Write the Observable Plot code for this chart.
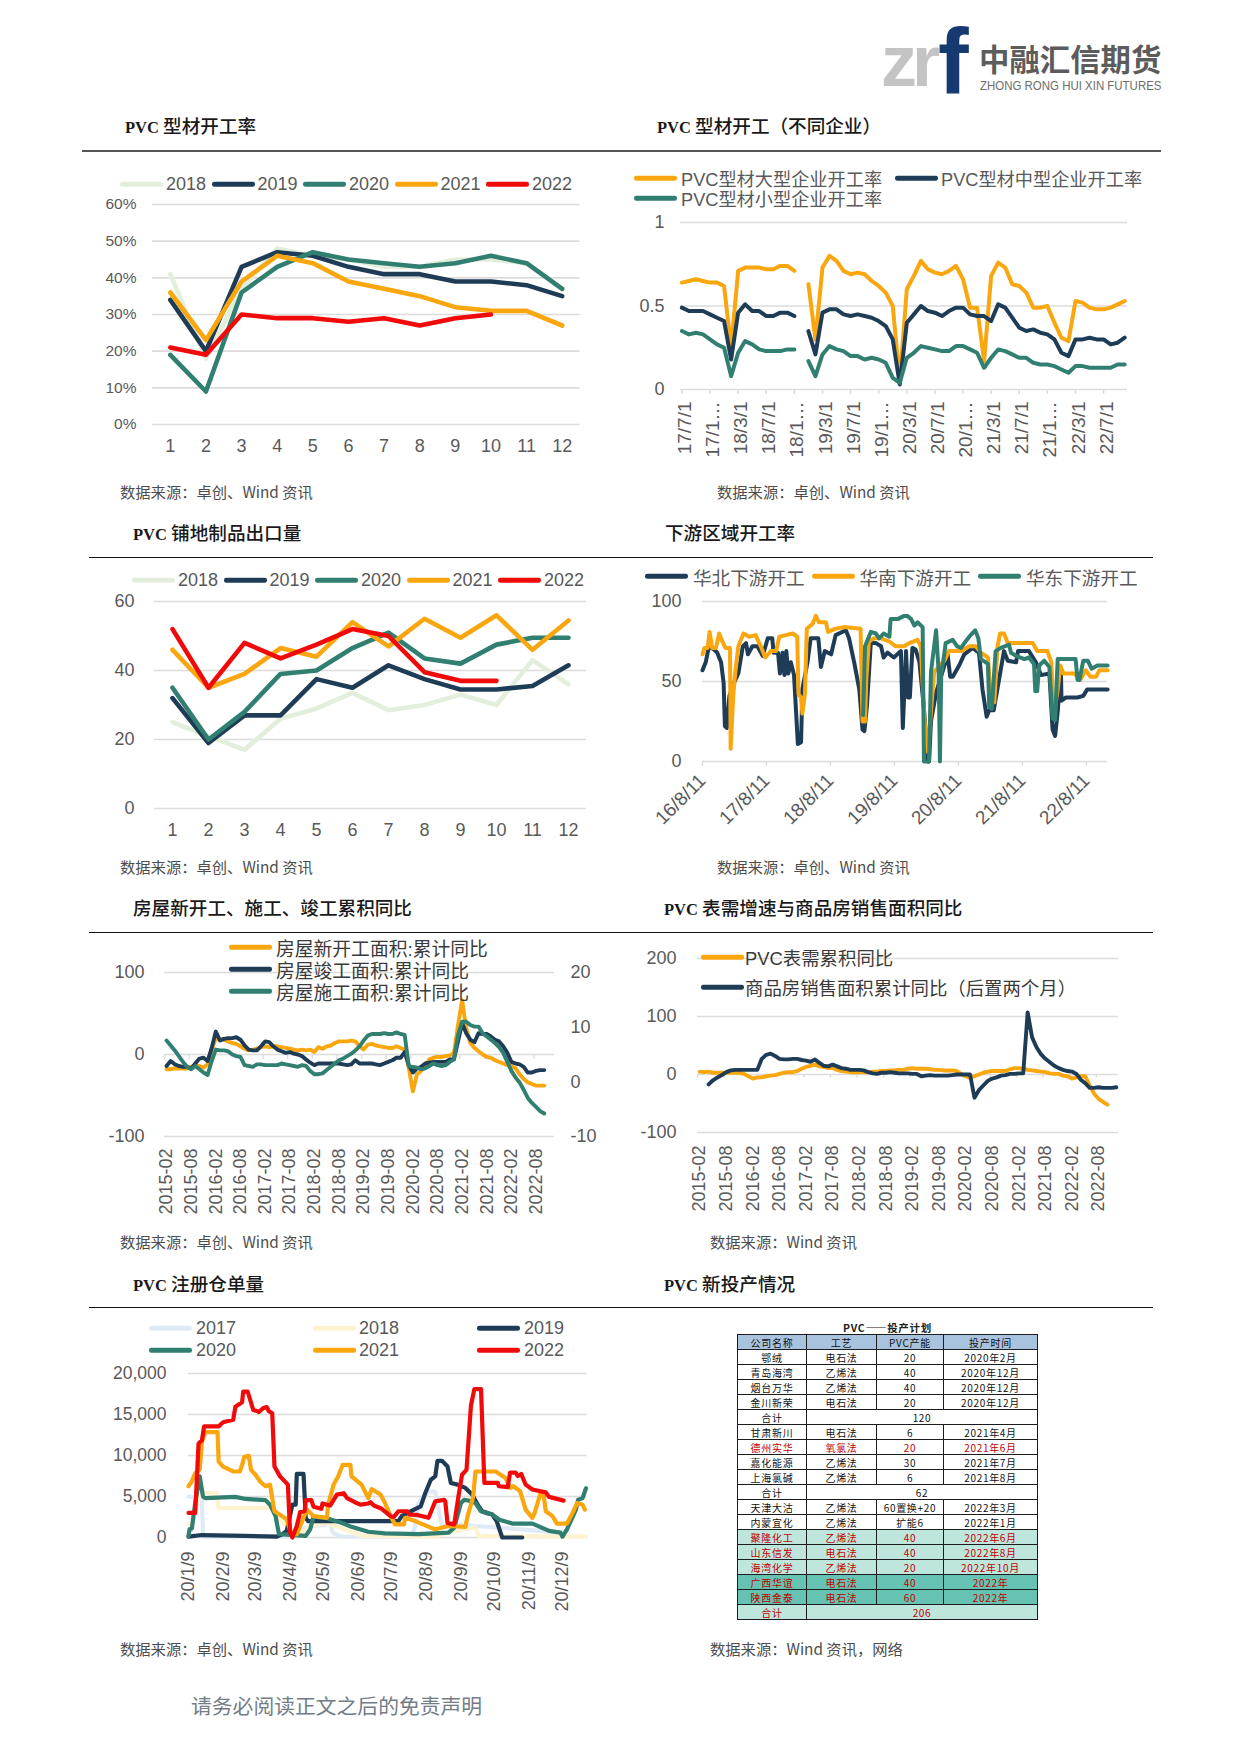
<!DOCTYPE html>
<html lang="zh">
<head>
<meta charset="utf-8">
<script src="https://cdn.jsdelivr.net/npm/d3@7"></script>
<script src="https://cdn.jsdelivr.net/npm/@observablehq/plot@0.6"></script>
<style>
html,body{margin:0;padding:0;background:#fff;}
#page{position:relative;width:1241px;height:1755px;overflow:hidden;font-family:"Liberation Sans","Noto Sans CJK SC",sans-serif;}
.abs{position:absolute;white-space:nowrap;}
.title{font-family:"Noto Sans CJK SC",sans-serif;font-weight:500;font-size:18.6px;color:#1a1a1a;transform:translateY(-50%);}
.title span{font-family:"Liberation Serif",serif;font-weight:700;font-size:16.5px;}
.source{font-family:"Noto Sans CJK SC",sans-serif;font-size:15.3px;color:#4d4d4d;transform:translateY(-50%);}
.leg{color:#595959;font-size:18px;transform:translateY(-50%);}
.swatch{height:4.6px;border-radius:2.3px;transform:translateY(-50%);}
table{position:absolute;left:737px;top:1320px;width:300px;border-collapse:collapse;table-layout:fixed;font-family:"Noto Sans CJK SC",sans-serif;font-size:10px;letter-spacing:.7px;}
td{height:14px;padding:0;line-height:13px;text-align:center;border:1px solid #1c1c1c;overflow:hidden;white-space:nowrap;}
</style>
</head>
<body>
<div id="page"></div>
<script>
// ---------- palette ----------
const NAVY="#1f3c57", TEAL="#317f70", ORANGE="#f9a60f", RED="#f00a0a", LGREEN="#e3efdc", LBLUE="#dfeaf6", CREAM="#fff2cf";
const GRID="#dcdcdc", TEXT="#595959";

// ---------- chart 1: PVC profile operating rate ----------
const months=[1,2,3,4,5,6,7,8,9,10,11,12];
const pctTicks=[0,10,20,30,40,50,60];
const rate2018=[41,18,37,48,46,45,43,43,45,45,44,37];
const rate2019=[34,20,43,47,46,43,41,41,39,39,38,35];
const rate2020=[19,9,36,43,47,45,44,43,44,46,44,37];
const rate2021=[36,23,39,46,44,39,37,35,32,31,31,27];
const rate2022=[21,19,30,29,29,28,29,27,29,30];

// ---------- chart 2: by enterprise size (monthly, from 2017/7) ----------
const sizeTickIndex=[0,4,8,12,16,20,24,28,32,36,40,44,48,52,56,60];
const sizeTickLabels=["17/7/1","17/1…","18/3/1","18/7/1","18/1…","19/3/1","19/7/1","19/1…","20/3/1","20/7/1","20/1…","21/3/1","21/7/1","21/1…","22/3/1","22/7/1"];
const sizeLarge=[.64,.65,.66,.65,.64,.64,.62,.25,.71,.73,.73,.73,.72,.72,.74,.74,.71,null,
 .63,.30,.73,.80,.77,.71,.69,.70,.69,.65,.62,.58,.50,.05,.60,.68,.77,.72,.70,.69,.71,.74,.66,.49,.49,.17,.68,.76,.73,.63,.62,.58,.49,.49,.50,.40,.31,.29,.53,.52,.49,.48,.48,.49,.51,.53];
const sizeMedium=[.49,.47,.47,.47,.45,.43,.41,.18,.46,.51,.47,.47,.44,.44,.46,.46,.44,null,
 .35,.21,.46,.48,.48,.45,.44,.45,.44,.43,.41,.38,.30,.03,.40,.45,.50,.47,.46,.44,.47,.49,.49,.45,.44,.44,.41,.51,.49,.43,.37,.35,.36,.34,.33,.30,.22,.20,.30,.30,.31,.30,.30,.27,.28,.31];
const sizeSmall=[.35,.33,.34,.33,.30,.27,.25,.08,.22,.29,.27,.24,.23,.23,.23,.24,.24,null,
 .17,.08,.21,.26,.24,.23,.20,.20,.18,.19,.18,.16,.07,.04,.19,.22,.26,.25,.24,.23,.23,.26,.26,.24,.22,.13,.19,.24,.23,.21,.19,.19,.16,.15,.15,.14,.12,.10,.14,.14,.13,.13,.13,.13,.15,.15];

// ---------- chart 3: PVC flooring exports ----------
const export2018=[25,21,17,26,29,33.5,28.5,30,33,30,43,36];
const export2019=[32,19,27,27,37.5,35,41.5,37.5,34.5,34.5,35.5,41.5];
const export2020=[35,20,28,39,40,46.5,51,43.5,42,47.5,49.5,49.5];
const export2021=[46,35,39,46.5,44,54,47,55,49.5,56,46,54.5];
const export2022=[52,35,48,43.5,47.5,52,50,39.5,37,37];

// ---------- chart 4: downstream regional rate (x = years since 16/8/11) ----------
const regionYearLabels=["16/8/11","17/8/11","18/8/11","19/8/11","20/8/11","21/8/11","22/8/11"];
const northYears=[0,.05,.10,.18,.23,.29,.33,.35,.38,.42,.49,.56,.63,.68,.71,.78,.86,.94,1.02,1.09,1.11,1.18,1.21,1.25,1.28,1.31,1.34,1.38,1.43,1.49,1.54,1.56,1.64,1.69,1.81,1.85,1.91,2.01,2.08,2.24,2.29,2.37,2.45,2.50,2.53,2.57,2.63,2.71,2.79,2.83,2.89,2.99,3.10,3.13,3.18,3.21,3.24,3.28,3.33,3.39,3.46,3.52,3.54,3.57,3.65,3.78,3.83,3.87,3.91,4.01,4.09,4.22,4.32,4.375,4.44,4.48,4.55,4.62,4.71,4.77,4.90,4.93,5.10,5.21,5.29,5.42,5.47,5.51,5.55,5.60,5.61,5.68,5.86,5.95,6.01,6.33];
const northRate=[57,62,72,70,68,62,49,22,21,41,49,55,72,74,67,72,72,66,77,77,68,68,55,68,54,69,55,62,54,11,12,45,62,77,77,59,69,67,79,82,77,62,45,20,19,35,74,74,72,65,68,65,69,21,69,40,40,71,70,62,33,0,0,25,43,60,67,53,53,60,67,71,68,45,28,32,32,48,69,63,62,69,69,62,54,55,20,16,31,57,38,40,40,41,45,45];
const southYears=[0,.03,.08,.11,.15,.21,.26,.31,.36,.43,.44,.48,.51,.56,.64,.73,.83,.91,.98,1.07,1.15,1.20,1.30,1.41,1.48,1.50,1.54,1.56,1.60,1.63,1.72,1.77,1.82,1.93,1.96,2.08,2.21,2.47,2.50,2.54,2.56,2.60,2.68,2.79,2.92,3.02,3.15,3.23,3.36,3.41,3.47,3.52,3.62,3.78,3.85,4.04,4.17,4.27,4.35,4.46,4.51,4.56,4.61,4.65,4.71,4.77,5.16,5.23,5.39,5.45,5.49,5.55,5.59,5.64,5.81,5.90,5.99,6.06,6.15,6.20,6.33];
const southRate=[67,71,71,81,71,71,80,75,71,71,8,41,55,72,80,78,79,72,65,69,69,78,79,80,78,42,40,30,42,83,86,91,87,87,81,83,84,83,25,25,52,75,77,77,75,72,72,74,76,72,25,6,56,63,69,69,72,72,68,65,37,37,72,80,80,74,74,69,69,62,29,45,60,55,55,51,57,53,53,57,57];
const eastYears=[2.51,2.54,2.63,2.71,2.76,2.83,2.92,2.94,3.05,3.15,3.20,3.26,3.31,3.36,3.44,3.45,3.46,3.54,3.57,3.65,3.69,3.71,3.73,3.78,3.80,3.91,3.98,4.04,4.11,4.19,4.26,4.31,4.35,4.46,4.48,4.52,4.58,4.66,4.79,4.82,4.90,5.03,5.10,5.18,5.20,5.23,5.26,5.34,5.42,5.47,5.51,5.55,5.60,5.83,5.86,5.89,5.95,6.02,6.08,6.17,6.33];
const eastRate=[29,72,81,80,77,80,78,89,89,91,91,89,85,87,84,41,0,0,56,82,56,0,54,68,74,76,72,71,75,79,82,77,64,61,34,33,69,71,73,68,66,64,65,61,44,44,60,63,59,27,26,64,64,64,51,51,63,63,58,60,60];

// ---------- charts 5 & 6: half-yearly labelled monthly axis, from 2015-02 ----------
const halfYearIndex=[0,6,12,18,24,30,36,42,48,54,60,66,72,78,84,90];
const halfYearLabels=["2015-02","2015-08","2016-02","2016-08","2017-02","2017-08","2018-02","2018-08","2019-02","2019-08","2020-02","2020-08","2021-02","2021-08","2022-02","2022-08"];
const leftTicks=[-100,0,100];
const rightAxisLabels=[-10,0,10,20];
const newStarts=[-18,-18,-17,-17,-17,-17,-15,-14,-14,-16,-12,6,20,19,18,16,14,13,10,7,5,6,7,9,10,9,10,10,9,8,7,6,5,6,5,6,3,9,7,10,11,14,16,16,16,17,16,10,6,12,13,11,10,9,8,8,10,8,6,-16,-45,-24,-20,-14,-6,-4,-3,-3,-2,-1,2,36,66,32,14,8,4,0,-3,-4,-7,-9,-11,-13,-14,-17,-24,-30,-34,-36,-38,-38,-38];
const completions=[-14,-8,-12,-14,-15,-15,-17,-11,-5,-4,-8,8,28,17,19,20,20,21,18,11,6,5,5,10,16,15,10,6,4,2,3,1,0,-2,-6,-10,-13,-11,-11,-11,-11,-11,-11,-12,-13,-12,-7,-11,-11,-11,-11,-12,-13,-11,-9,-7,-4,-4,3,-13,-22,-17,-15,-11,-10,-9,-9,-9,-9,-6,-6,16,38,26,18,15,26,25,25,22,18,16,10,2,-9,-11,-12,-15,-22,-22,-20,-19,-19];
const underConstruction=[17,11,5,-2,-9,-15,-18,-14,-18,-22,-25,-8,6,5,5,4,0,-2,-3,-13,-14,-15,-12,-12,-13,-13,-13,-13,-11,-12,-13,-14,-15,-13,-14,-20,-24,-24,-23,-19,-15,-11,-7,-5,-2,1,5,10,17,23,25,25,25,26,25,25,27,25,24,-14,-15,-16,-18,-17,-14,-11,-13,-14,-13,-9,-6,24,40,40,36,34,34,26,22,18,14,9,2,-9,-20,-28,-34,-43,-53,-59,-64,-69,-72];
const apparentDemand=[5,4,5,3,3,3,3,3,3,3,1,-3,-7,-5,-5,-3,-2,-1,1,3,4,4,6,10,13,15,17,14,13,11,11,8,6,5,4,4,4,4,4,5,5,6,6,7,7,8,8,10,11,10,10,10,9,8,8,7,7,7,6,1,-3,-6,-3,0,3,5,6,6,6,6,9,11,11,10,8,7,6,5,4,2,1,1,-2,-3,-7,-5,-3,-3,-19,-33,-42,-47,-52];
const housingSales=[null,null,-17,-10,-5,-1,4,7,8,8,8,8,8,8,27,34,36,32,27,26,26,27,27,25,24,22,26,20,15,14,17,14,11,10,8,8,8,7,4,2,1,3,3,4,3,2,2,2,1,1,-3,-2,-1,-2,-2,-2,-2,-1,0,0,0,0,-40,-27,-19,-11,-7,-5,-2,-1,1,1,2,2,107,64,47,35,27,21,15,11,8,6,5,1,-9,-15,-23,-23,-22,-23,-23,-23,-22];

// ---------- chart 7: registered warehouse receipts (x = days after Jan 9) ----------
const receiptTickDates=["2020-01-09","2020-02-09","2020-03-09","2020-04-09","2020-05-09","2020-06-09","2020-07-09","2020-08-09","2020-09-09","2020-10-09","2020-11-09","2020-12-09"];
const receiptTicks=[0,5000,10000,15000,20000];
const days2017=[0,12,13,98,101,110,122,126,129,137,200,203,206,215,221,227,241,257,279,335];
const lots2017=[5000,4800,100,100,1000,1400,1500,2200,600,100,100,1400,4200,5600,5600,1400,1600,1400,1200,600];
const days2018=[0,3,10,25,27,76,79,93,98,110,122,140,155,221,233,251,257,260,356];
const lots2018=[1600,1600,5400,5400,3600,3600,2600,600,400,1400,1800,1000,200,100,600,1100,1200,200,100];
const days2019=[0,12,51,79,84,88,93,96,97,103,105,107,188,191,202,208,212,217,221,223,227,232,235,241,248,254,259,263,272,276,281,299];
const lots2019=[100,300,200,100,400,800,4000,4000,7750,7750,2400,2000,2000,2600,3400,3800,5400,7050,7450,9350,9350,8650,6650,6450,6050,5250,4000,3200,2800,2000,0,0];
const days2020=[0,1,3,6,10,13,15,42,51,69,73,78,81,105,109,112,122,137,146,161,176,206,233,238,244,247,254,257,262,266,272,278,290,308,323,333,335,339,347,349,353,356];
const lots2020=[200,1000,1100,4200,7450,5000,4800,4950,4700,4550,4000,2600,400,200,1000,2550,2400,1800,1300,700,500,400,600,1200,4200,4600,4400,4200,3200,3000,2800,2200,1700,1700,800,600,100,1000,3400,4600,4800,6000];
const days2021=[0,3,6,10,12,15,26,27,31,40,46,48,50,54,56,60,64,69,73,77,84,88,92,97,100,106,112,124,125,130,134,138,145,146,155,161,164,172,176,181,185,193,194,203,217,221,233,248,250,255,257,275,284,288,291,297,302,308,310,315,318,320,326,330,339,344,348,353,355];
const lots2021=[6250,6850,7850,8250,11650,12850,12850,9250,8650,8050,8050,8850,9850,9950,8250,7650,6850,6250,6450,3200,2600,2200,400,400,1400,3400,2600,2400,4000,6450,7450,8850,8850,7450,6450,4800,5900,5250,4200,2600,1600,1600,2400,2000,1200,1000,1400,1300,2600,5000,8050,8050,7250,6050,6250,5650,3400,2400,3000,5250,5250,3200,2600,1700,1700,3000,4200,4000,3400];
const days2022=[0,6,9,12,14,27,31,40,42,48,49,53,58,62,63,67,70,72,75,77,82,89,91,93,97,100,104,105,110,112,119,120,127,133,139,142,149,154,161,163,166,173,181,184,188,196,198,205,215,221,229,230,232,238,242,245,249,253,256,262,265,277,278,286,288,293,295,298,302,308,320,323,336];
const lots2022=[3000,3000,11450,11850,13550,13550,14050,14350,15950,16500,17800,17800,15550,15400,15300,15800,15900,15400,15150,8650,7450,6450,600,0,1400,3100,3200,4550,4550,3750,3500,4150,3900,5250,5400,4800,4300,4000,4150,4300,3900,3500,2600,2500,3200,3200,2800,2750,2400,4400,4600,4400,1750,1600,5200,7650,8250,16100,18100,18100,6650,6650,6250,6150,7900,7900,7500,7750,6450,5850,5500,4950,4500];

// ---------- table ----------
const tableHeader=["公司名称","工艺","PVC产能","投产时间"];
const tableCompany=["鄂绒","青岛海湾","烟台万华","金川新荣","合计","甘肃新川","德州实华","嘉化能源","上海氯碱","合计","天津大沽","内蒙宜化","聚隆化工","山东信发","海湾化学","广西华谊","陕西金泰","合计"];
const tableProcess=["电石法","乙烯法","乙烯法","电石法",null,"电石法","氧氯法","乙烯法","乙烯法",null,"乙烯法","乙烯法","乙烯法","电石法","乙烯法","电石法","电石法",null];
const tableCapacity=["20","40","40","20","120","6","20","30","6","62","60置换+20","扩能6","40","40","20","40","60","206"];
const tableDate=["2020年2月","2020年12月","2020年12月","2020年12月",null,"2021年4月","2021年6月","2021年7月","2021年8月",null,"2022年3月","2022年1月","2022年6月","2022年8月","2022年10月","2022年","2022年",null];

// ---------- helpers ----------
const page=document.getElementById("page");
function add(cls,x,y,text,style={}){
  const d=document.createElement("div");
  d.className="abs "+cls;d.style.left=x+"px";d.style.top=y+"px";d.textContent=text;
  Object.assign(d.style,style);page.appendChild(d);return d;
}
function legendItem(x,y,textX,label,color,opt={}){
  add("swatch",x,y,"",{width:(opt.w||43)+"px",background:color});
  add("leg",textX,y,label,{fontSize:(opt.size||18)+"px",color:opt.color||TEXT,fontFamily:'"Liberation Sans","Noto Sans CJK SC",sans-serif'});
}
const M={l:80,r:50,t:10,b:110};
function panel(f,marks,scales){
  const width=f.x1-f.x0+M.l+M.r, height=f.y1-f.y0+M.t+M.b;
  const svg=Plot.plot({width,height,marginLeft:M.l,marginRight:M.r,marginTop:M.t,marginBottom:M.b,
    style:{background:"transparent",fontFamily:'"Liberation Sans","Noto Sans CJK SC",sans-serif',fontSize:(f.font||18)+"px",color:TEXT,overflow:"visible"},
    ...scales,marks});
  svg.style.position="absolute";svg.style.left=(f.x0-M.l)+"px";svg.style.top=(f.y0-M.t)+"px";
  page.appendChild(svg);
}
const grid=(t)=>Plot.ruleY(t,{stroke:GRID,strokeWidth:1.7});
const lineOf=(xs,ys,color,w)=>Plot.line(ys.map((v,i)=>[xs[i],v]),{x:d=>d[0],y:d=>d[1],stroke:color,strokeWidth:w,strokeLinejoin:"round",strokeLinecap:"round"});
const byIndex=(ys)=>ys.map((_,i)=>i);
const monthAxisMarks=(ticksY,pad,fmt,fs)=>[
  Plot.axisY({ticks:ticksY,tickSize:0,tickPadding:pad,label:null,tickFormat:fmt||(d=>d),fontSize:fs||18}),
  Plot.axisX({ticks:months,tickSize:0,tickPadding:15,label:null,tickFormat:d=>d})
];

// ---------- static page furniture ----------
add("",881,21,"zr",{fontFamily:'"Liberation Sans"',fontWeight:700,fontSize:"72px",color:"#c4c4c4",letterSpacing:"-5px",lineHeight:"80px"});
add("",938,15,"f",{fontFamily:'"Liberation Sans"',fontWeight:700,fontSize:"92px",color:"#16396f",lineHeight:"92px"});
add("",979,58,"中融汇信期货",{fontFamily:'"Noto Sans CJK SC"',fontWeight:700,fontSize:"30.4px",color:"#5c5c5c",transform:"translateY(-50%)"});
add("",980,86,"ZHONG RONG HUI XIN FUTURES",{fontFamily:'"Liberation Sans"',fontSize:"12px",color:"#6d6d6d",transform:"translateY(-50%) scaleX(.955)",transformOrigin:"left"});

[["PVC 型材开工率",125,124],["PVC 型材开工（不同企业）",657,124],["PVC 铺地制品出口量",133,531],["下游区域开工率",665,531],["房屋新开工、施工、竣工累积同比",133,906],["PVC 表需增速与商品房销售面积同比",664,906],["PVC 注册仓单量",133,1282],["PVC 新投产情况",664,1282]]
 .forEach(([t,x,y])=>{const d=add("title",x,y,"");d.innerHTML=t.replace("PVC","<span>PVC</span>");});
[[82,150,1079,"#555",2],[89,557,1064,"#111",1.4],[89,932,1064,"#111",1.4],[89,1307,1064,"#111",1.4]]
 .forEach(([x,y,w,c,h])=>add("",x,y,"",{width:w+"px",height:h+"px",background:c}));
[["数据来源：卓创、Wind 资讯",120,491],["数据来源：卓创、Wind 资讯",717,491],["数据来源：卓创、Wind 资讯",120,866],["数据来源：卓创、Wind 资讯",717,866],["数据来源：卓创、Wind 资讯",120,1241],["数据来源：Wind 资讯",710,1241],["数据来源：卓创、Wind 资讯",120,1648],["数据来源：Wind 资讯，网络",710,1648]]
 .forEach(([t,x,y])=>add("source",x,y,t));
add("",191,1705,"请务必阅读正文之后的免责声明",{fontFamily:'"Noto Sans CJK SC"',fontSize:"20.8px",color:"#737d87",transform:"translateY(-50%)"});

// ---------- chart 1 ----------
panel({x0:151.5,x1:579,y0:204,y1:424},[
  grid(pctTicks),
  lineOf(months,rate2018,LGREEN,4.6),lineOf(months,rate2019,NAVY,4.6),lineOf(months,rate2020,TEAL,4.6),lineOf(months,rate2021,ORANGE,4.6),lineOf(months,rate2022,RED,4.6),
  ...monthAxisMarks(pctTicks,16,d=>d+"%",15.5)
],{x:{type:"linear",domain:[.5,12.5]},y:{domain:[0,60]}});
[["2018",LGREEN],["2019",NAVY],["2020",TEAL],["2021",ORANGE],["2022",RED]].forEach(([t,c],k)=>legendItem(120+91.5*k,184,166+91.5*k,t,c));

// ---------- chart 2 ----------
panel({x0:680,x1:1127,y0:222,y1:389},[
  grid([0,.5,1]),
  Plot.ruleX(sizeTickIndex,{x:d=>d,y1:0,y2:-.03,stroke:GRID,strokeWidth:1.5}),
  lineOf(byIndex(sizeLarge),sizeLarge,ORANGE,4),lineOf(byIndex(sizeMedium),sizeMedium,NAVY,4),lineOf(byIndex(sizeSmall),sizeSmall,TEAL,4),
  Plot.axisY({ticks:[0,.5,1],tickSize:0,tickPadding:16,label:null,tickFormat:d=>d}),
  Plot.axisX({ticks:sizeTickIndex,tickSize:0,tickPadding:12,tickRotate:-90,label:null,fontSize:19,dx:3,tickFormat:(d)=>sizeTickLabels[sizeTickIndex.indexOf(d)]})
],{x:{type:"linear",domain:[-.2,63.4]},y:{domain:[0,1]}});
legendItem(634,178,681,"PVC型材大型企业开工率",ORANGE,{size:18.2});
legendItem(894.5,178,941,"PVC型材中型企业开工率",NAVY,{size:18.2});
legendItem(634,198,681,"PVC型材小型企业开工率",TEAL,{size:18.2});

// ---------- chart 3 ----------
panel({x0:154,x1:586,y0:601,y1:808},[
  grid([0,20,40,60]),
  lineOf(months,export2018,LGREEN,4.6),lineOf(months,export2019,NAVY,4.6),lineOf(months,export2020,TEAL,4.6),lineOf(months,export2021,ORANGE,4.6),lineOf(months,export2022,RED,4.6),
  ...monthAxisMarks([0,20,40,60],20)
],{x:{type:"linear",domain:[.5,12.5]},y:{domain:[0,60]}});
[["2018",LGREEN],["2019",NAVY],["2020",TEAL],["2021",ORANGE],["2022",RED]].forEach(([t,c],k)=>legendItem(132+91.5*k,580,178+91.5*k,t,c));

// ---------- chart 4 ----------
const yearTicks=regionYearLabels.map((_,i)=>i);
panel({x0:701.7,x1:1106.5,y0:601,y1:761},[
  grid([0,50,100]),
  Plot.ruleX(yearTicks,{x:d=>d,y1:0,y2:-3,stroke:GRID,strokeWidth:1.5}),
  lineOf(northYears,northRate,NAVY,4),lineOf(southYears,southRate,ORANGE,4),lineOf(eastYears,eastRate,TEAL,4),
  Plot.axisY({ticks:[0,50,100],tickSize:0,tickPadding:21,label:null,tickFormat:d=>d}),
  Plot.axisX({ticks:yearTicks,tickSize:0,tickPadding:16,tickRotate:-45,label:null,fontSize:19,tickFormat:d=>regionYearLabels[d]})
],{x:{type:"linear",domain:[0,6.325]},y:{domain:[0,100]}});
[["华北下游开工",NAVY],["华南下游开工",ORANGE],["华东下游开工",TEAL]].forEach(([t,c],k)=>legendItem(645+166.5*k,576,693+166.5*k,t,c,{size:18.6}));

// ---------- chart 5 ----------
const halfYearEdges=halfYearIndex.map(d=>d-.5);
const rightToLeft=r=>(r+10)/30*200-100;
panel({x0:164,x1:554,y0:972,y1:1136},[
  grid(leftTicks),
  Plot.ruleX(halfYearEdges,{x:d=>d,y1:0,y2:-6,stroke:GRID,strokeWidth:1.4}),
  lineOf(byIndex(newStarts),newStarts,ORANGE,3.9),lineOf(byIndex(completions),completions,NAVY,3.9),lineOf(byIndex(underConstruction),underConstruction,TEAL,3.9),
  Plot.axisY({ticks:leftTicks,tickSize:0,tickPadding:20,label:null,tickFormat:d=>d}),
  Plot.axisY({anchor:"right",ticks:rightAxisLabels.map(rightToLeft),tickSize:0,tickPadding:16,label:null,tickFormat:(d)=>rightAxisLabels[rightAxisLabels.map(rightToLeft).indexOf(d)]}),
  Plot.axisX({ticks:halfYearIndex,tickSize:0,tickPadding:12,tickRotate:-90,label:null,tickFormat:d=>halfYearLabels[halfYearIndex.indexOf(d)]})
],{x:{type:"linear",domain:[-.5,94.5]},y:{domain:[-100,100]}});
[["房屋新开工面积:累计同比",ORANGE,947],["房屋竣工面积:累计同比",NAVY,969],["房屋施工面积:累计同比",TEAL,991]].forEach(([t,c,y])=>legendItem(229,y,276,t,c,{size:18.8,color:"#3a3a3a"}));

// ---------- chart 6 ----------
panel({x0:697,x1:1118,y0:958,y1:1132},[
  grid([-100,0,100,200]),
  Plot.ruleX(halfYearEdges,{x:d=>d,y1:0,y2:-6,stroke:GRID,strokeWidth:1.4}),
  lineOf(byIndex(apparentDemand),apparentDemand,ORANGE,3.9),lineOf(byIndex(housingSales),housingSales,NAVY,3.9),
  Plot.axisY({ticks:[-100,0,100,200],tickSize:0,tickPadding:21,label:null,tickFormat:d=>d}),
  Plot.axisX({ticks:halfYearIndex,tickSize:0,tickPadding:13,tickRotate:-90,label:null,tickFormat:d=>halfYearLabels[halfYearIndex.indexOf(d)]})
],{x:{type:"linear",domain:[-.5,94.5]},y:{domain:[-100,200]}});
legendItem(701,957,745,"PVC表需累积同比",ORANGE,{size:18.4,color:"#3a3a3a"});
legendItem(701,987,745,"商品房销售面积累计同比（后置两个月）",NAVY,{size:18.4,color:"#3a3a3a"});

// ---------- chart 7 ----------
const dayToDate=d=>new Date(Date.UTC(2020,0,9+d));
const receiptDates=receiptTickDates.map(s=>new Date(s+"T00:00:00Z"));
const fmtReceipt=d=>`20/${d.getUTCMonth()+1}/${d.getUTCDate()}`;
panel({x0:188.4,x1:587,y0:1373,y1:1537,font:17.5},[
  grid(receiptTicks),
  lineOf(days2017.map(dayToDate),lots2017,LBLUE,4.2),lineOf(days2018.map(dayToDate),lots2018,CREAM,4.2),lineOf(days2019.map(dayToDate),lots2019,NAVY,4.2),
  lineOf(days2020.map(dayToDate),lots2020,TEAL,4.2),lineOf(days2021.map(dayToDate),lots2021,ORANGE,4.2),lineOf(days2022.map(dayToDate),lots2022,RED,4.2),
  Plot.axisY({ticks:receiptTicks,tickSize:0,tickPadding:22,label:null,tickFormat:d=>d3.format(",")(d)}),
  Plot.axisX({ticks:receiptDates,tickSize:0,tickPadding:14,tickRotate:-90,label:null,tickFormat:fmtReceipt,fontSize:18})
],{x:{type:"utc",domain:[dayToDate(0),dayToDate(357.5)]},y:{domain:[0,20000]}});
[["2017",LBLUE,149,1328,196],["2018",CREAM,313,1328,359],["2019",NAVY,477,1328,524],["2020",TEAL,149,1350,196],["2021",ORANGE,313,1350,359],["2022",RED,477,1350,524]]
 .forEach(([t,c,x,y,tx])=>legendItem(x,y,tx,t,c));

// ---------- table ----------
const tbl=document.createElement("table");
tbl.innerHTML='<colgroup><col style="width:69px"><col style="width:70px"><col style="width:67px"><col style="width:94px"></colgroup>';
const addRow=(cells,bg,color,weight)=>{
  const tr=document.createElement("tr");
  cells.forEach(([t,span])=>{const td=document.createElement("td");td.textContent=t;if(span)td.colSpan=span;td.style.background=bg;td.style.color=color;if(weight)td.style.fontWeight=weight;tr.appendChild(td);});
  tbl.appendChild(tr);return tr;
};
const titleRow=addRow([["PVC——投产计划",4]],"#fff","#222","700");
titleRow.firstChild.style.border="none";titleRow.firstChild.style.borderBottom="1px solid #1c1c1c";titleRow.firstChild.style.fontSize="10.5px";
addRow(tableHeader.map(t=>[t]),"#a9c3de","#111");
tableCompany.forEach((c,i)=>{
  let bg="#fff",col="#111";
  if(i===6){col="#c00000";}
  if(i>=12&&i<=14||i===17){bg="#bfe6dc";col="#c00000";}
  if(i===15||i===16){bg="#66c2b2";col="#c00000";}
  if(tableProcess[i]===null) addRow([[c],[tableCapacity[i],3]],bg,col);
  else addRow([[c],[tableProcess[i]],[tableCapacity[i]],[tableDate[i]]],bg,col);
});
page.appendChild(tbl);
</script>
</body>
</html>
